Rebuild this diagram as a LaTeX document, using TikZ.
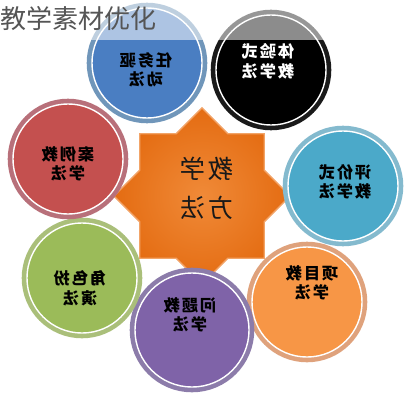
\documentclass[tikz,border=0pt]{standalone}
\usepackage{fontspec}
\usepackage{graphicx}
\usetikzlibrary{shapes.geometric}

\newfontfamily\cjk{Noto Sans CJK SC}
\newfontfamily\cjkwide[LetterSpace=12]{Noto Sans CJK SC}

% the picture shows its labels mirrored
\newcommand{\fliptext}[1]{\reflectbox{\begin{tabular}{@{}c@{}}#1\end{tabular}}}

\definecolor{bluefill}{HTML}{4A7EC2}
\definecolor{bluering}{HTML}{7096BA}
\definecolor{blackring}{HTML}{1A1A1A}
\definecolor{cyanfill}{HTML}{4BA9C9}
\definecolor{cyanring}{HTML}{84BACE}
\definecolor{orangefill}{HTML}{F79646}
\definecolor{orangering}{HTML}{DFA27C}
\definecolor{purplefill}{HTML}{7F63A8}
\definecolor{purplering}{HTML}{8C7CAA}
\definecolor{greenfill}{HTML}{9BBB59}
\definecolor{greenring}{HTML}{AABF7A}
\definecolor{redfill}{HTML}{C4504F}
\definecolor{redring}{HTML}{B8707A}
\definecolor{starin}{HTML}{F08A38}
\definecolor{starout}{HTML}{E46C12}
\definecolor{starline}{HTML}{F2A468}
\definecolor{titlegray}{HTML}{555555}

\tikzset{
  bubble/.style={circle, inner sep=0pt, minimum size=2.75cm, draw=white, line width=1pt},
  ring/.style={preaction={draw=#1, line width=7.5pt}},
  bubbletext/.style={inner sep=0pt, font=\cjkwide\bfseries\fontsize{11.5}{14}\selectfont},
}

\begin{document}
\begin{tikzpicture}[x=0.025cm, y=-0.025cm]
\useasboundingbox (0,0) rectangle (411,400);

% centre star
\node[star, star points=8, star point ratio=1.306, minimum size=4.4cm, inner sep=0pt,
      draw=starline, line width=1pt, inner color=starin, outer color=starout] (fangfa) at (202,196) {};
\node[inner sep=0pt, text=black!90, font=\cjkwide\fontsize{18}{28}\selectfont] (fangfa-t) at (207,190) {\fliptext{教学\\方法}};

% circles round it
\node[bubble, fill=bluefill, ring=bluering] (renwu) at (147,63) {};
\node[bubbletext] (renwu-t) at (146,72) {\fliptext{任务驱\\动法}};

\node[bubble, fill=black, ring=blackring] (tiyan) at (271,70) {};
\node[bubbletext, text=white] (tiyan-t) at (268,63) {\fliptext{体验式\\教学法}};

\node[bubble, fill=cyanfill, ring=cyanring] (pingjia) at (343,186) {};
\node[bubbletext] (pingjia-t) at (345,184) {\fliptext{评价式\\教学法}};

\node[bubble, fill=orangefill, ring=orangering] (xiangmu) at (307,302) {};
\node[bubbletext] (xiangmu-t) at (312,285) {\fliptext{项目教\\学法}};

\node[bubble, fill=purplefill, ring=purplering, minimum size=2.85cm] (wenti) at (192,330) {};
\node[bubbletext] (wenti-t) at (190,317) {\fliptext{问题教\\学法}};

\node[bubble, fill=greenfill, ring=greenring] (juese) at (82,278) {};
\node[bubbletext] (juese-t) at (80,290) {\fliptext{角色扮\\演法}};

\node[bubble, fill=redfill, ring=redring] (anli) at (68,159) {};
\node[bubbletext] (anli-t) at (68,166) {\fliptext{案例教\\学法}};

% pale band behind the title
\fill[white, opacity=0.55] (0,0) rectangle (411,40);
\node[anchor=west, inner sep=0pt, text=titlegray, font=\cjk\fontsize{18.5}{20}\selectfont] (biaoti) at (0,19) {教学素材优化};

\end{tikzpicture}
\end{document}
